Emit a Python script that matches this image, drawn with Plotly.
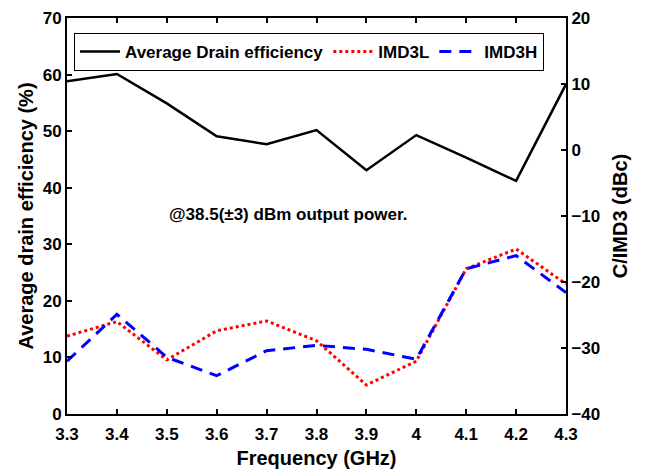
import plotly.graph_objects as go

# Frequency sweep (GHz)
freq = [3.3, 3.4, 3.5, 3.6, 3.7, 3.8, 3.9, 4.0, 4.1, 4.2, 4.3]

# Average drain efficiency (%) - left axis
drain_eff = [58.8, 60.1, 54.9, 49.1, 47.7, 50.2, 43.1, 49.3, 45.3, 41.2, 58.3]

# Carrier-to-IMD3 ratios (dBc) - right axis
imd3l = [-28.2, -26.0, -31.8, -27.4, -25.9, -28.9, -35.6, -32.0, -18.0, -15.0, -20.3]
imd3h = [-32.0, -24.9, -31.4, -34.2, -30.4, -29.6, -30.2, -31.7, -18.0, -16.0, -21.6]

x_ticks = [3.3, 3.4, 3.5, 3.6, 3.7, 3.8, 3.9, 4.0, 4.1, 4.2, 4.3]
x_ticktext = ["3.3", "3.4", "3.5", "3.6", "3.7", "3.8", "3.9", "4", "4.1", "4.2", "4.3"]

FONT = "Liberation Sans, Arial, sans-serif"
TICK = dict(family=FONT, size=17, color="black", weight="bold")
TITLE = dict(family=FONT, size=20, color="black", weight="bold")

fig = go.Figure()
fig.add_trace(go.Scatter(
    x=freq, y=drain_eff, mode="lines", name="Average Drain efficiency",
    line=dict(color="black", width=2.5), yaxis="y"))
fig.add_trace(go.Scatter(
    x=freq, y=imd3l, mode="lines", name="IMD3L",
    line=dict(color="#ff0000", width=3, dash="dot"), yaxis="y2"))
fig.add_trace(go.Scatter(
    x=freq, y=imd3h, mode="lines", name="IMD3H",
    line=dict(color="#0000ff", width=3, dash="12px,8px"), yaxis="y2"))

fig.add_annotation(
    text="@38.5(±3) dBm output power.", x=3.743, y=35.2, xref="x", yref="y",
    showarrow=False, xanchor="center", yanchor="middle",
    font=dict(family=FONT, size=17, color="black", weight="bold"))

fig.update_layout(
    width=645, height=474,
    margin=dict(l=67, r=79, t=18, b=60),
    paper_bgcolor="white", plot_bgcolor="white",
    font=dict(family=FONT, size=17, color="black", weight="bold"),
    showlegend=True,
    legend=dict(
        orientation="h", x=0.014, y=0.962, xanchor="left", yanchor="top",
        bgcolor="white", bordercolor="black", borderwidth=1,
        font=dict(family=FONT, size=17, color="black", weight="bold"),
        itemwidth=40, tracegroupgap=0),
    xaxis=dict(
        range=[3.3, 4.3], tickvals=x_ticks, ticktext=x_ticktext,
        ticks="inside", ticklen=5, tickwidth=1.5, tickcolor="black",
        showline=True, linecolor="black", linewidth=2, mirror="ticks",
        showgrid=False, zeroline=False, tickfont=TICK, ticklabelstandoff=4,
        automargin=False,
        title=dict(text="Frequency (GHz)", standoff=8, font=TITLE)),
    yaxis=dict(
        range=[0, 70], dtick=10, ticks="inside", ticklen=5, tickwidth=1.5,
        tickcolor="black", showline=True, linecolor="black", linewidth=2,
        showgrid=False, zeroline=False, tickfont=TICK, automargin=False,
        title=dict(text="Average drain efficiency (%)", standoff=4, font=TITLE)),
    yaxis2=dict(
        range=[-40, 20], dtick=10, overlaying="y", side="right",
        ticks="inside", ticklen=5, tickwidth=1.5, tickcolor="black",
        showline=True, linecolor="black", linewidth=2,
        showgrid=False, zeroline=False, tickfont=TICK, automargin=False,
        title=dict(text="C/IMD3 (dBc)", standoff=14, font=TITLE)),
)

fig.write_html("out.html")
